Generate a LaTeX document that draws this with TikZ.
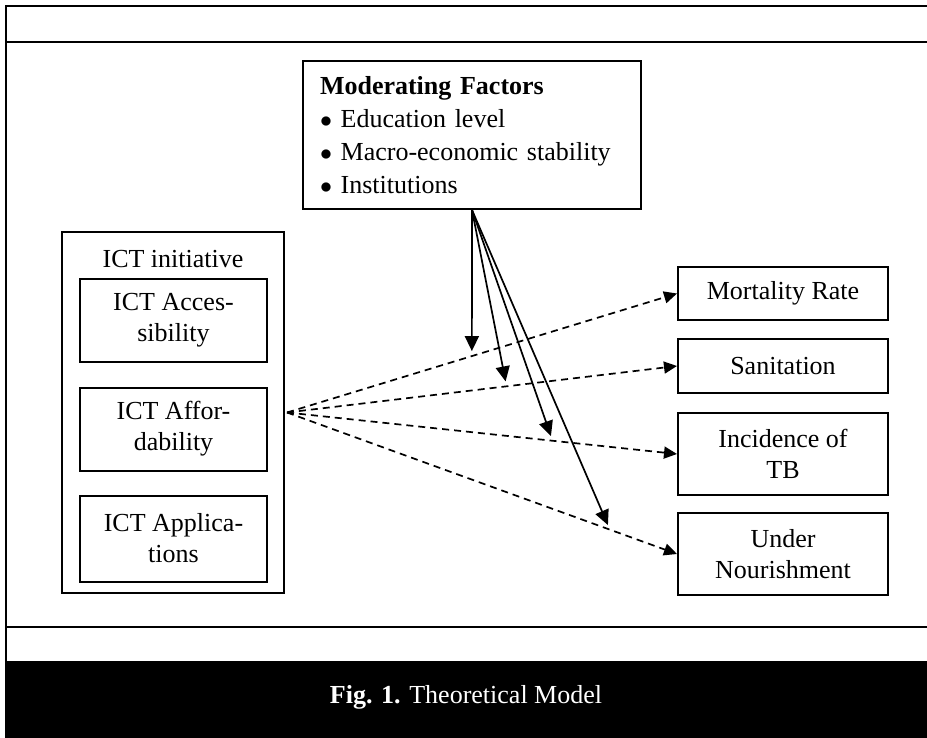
\documentclass[tikz,border=0pt]{standalone}
\usepackage{fontspec}
\setmainfont{Liberation Serif}
\usetikzlibrary{arrows.meta, positioning}

\begin{document}
\begin{tikzpicture}[
    x=0.5pt, y=-0.5pt,
    font=\fontsize{13}{15.5}\selectfont,
    box/.style={draw, line width=1pt, align=center, inner sep=0pt},
    factor/.style={box, minimum width=93.5pt, minimum height=41.5pt},
    outcome/.style={box, minimum width=105pt},
    frame/.style={line width=1pt},
    effect/.style={line width=0.85pt, dash pattern=on 3.5pt off 2.5pt, -{Triangle[length=6.5pt, width=6pt]}},
    moderate/.style={line width=0.85pt, shorten >=2.5pt, -{Triangle[length=7.5pt, width=7pt]}}
]
    \useasboundingbox (0,0) rectangle (927,738);
    \fill (5,661) rectangle (927,738);
    \draw [frame] (927,6) -- (6,6) -- (6,661);
    \draw [frame] (6,42) -- (927,42);
    \draw [frame] (6,627) -- (927,627);
    \node [text=white] (caption) at (466,697) {\textbf{Fig. 1.} Theoretical Model};

    \node [box, minimum width=169pt, minimum height=74pt, text width=152pt, align=left, font=\fontsize{13}{16.5}\selectfont] (mod) at (472,135) {\textbf{Moderating Factors}\\$\bullet$ Education level\\$\bullet$ Macro-economic stability\\$\bullet$ Institutions};

    \node [box, minimum width=111pt, minimum height=180.5pt] (init) at (173,412.5) {};
    \node [anchor=base, yshift=-18pt] (initlabel) at (init.north) {ICT initiative};
    \node [factor] (acc) at (173.5,320) {ICT Acces-\\sibility};
    \node [factor, below=12pt of acc] (aff) {ICT Affor-\\dability};
    \node [factor, below=11.5pt of aff, minimum height=43pt] (app) {ICT Applica-\\tions};

    \node [outcome, minimum height=26.5pt] (mort) at (783,293.5) {Mortality Rate};
    \node [outcome, minimum height=27pt, below=8.5pt of mort] (san) {Sanitation};
    \node [outcome, minimum height=41pt, below=9pt of san] (inc) {Incidence of\\TB};
    \node [outcome, minimum height=41pt, below=8pt of inc] (und) {Under\\Nourishment};

    \coordinate (src) at ([xshift=1pt]init.east);
    \draw [effect] (src) -- coordinate[pos=0.474] (atmort) (mort.west);
    \draw [effect] (src) -- coordinate[pos=0.563] (atsan) (san.west);
    \draw [effect] (src) -- coordinate[pos=0.681] (atinc) (inc.west);
    \draw [effect] (src) -- coordinate[pos=0.828] (atund) (und.west);

    \draw [moderate] (mod.south) -- (atmort);
    \draw [moderate] (mod.south) -- (atsan);
    \draw [moderate] (mod.south) -- (atinc);
    \draw [moderate] (mod.south) -- (atund);
\end{tikzpicture}
\end{document}
